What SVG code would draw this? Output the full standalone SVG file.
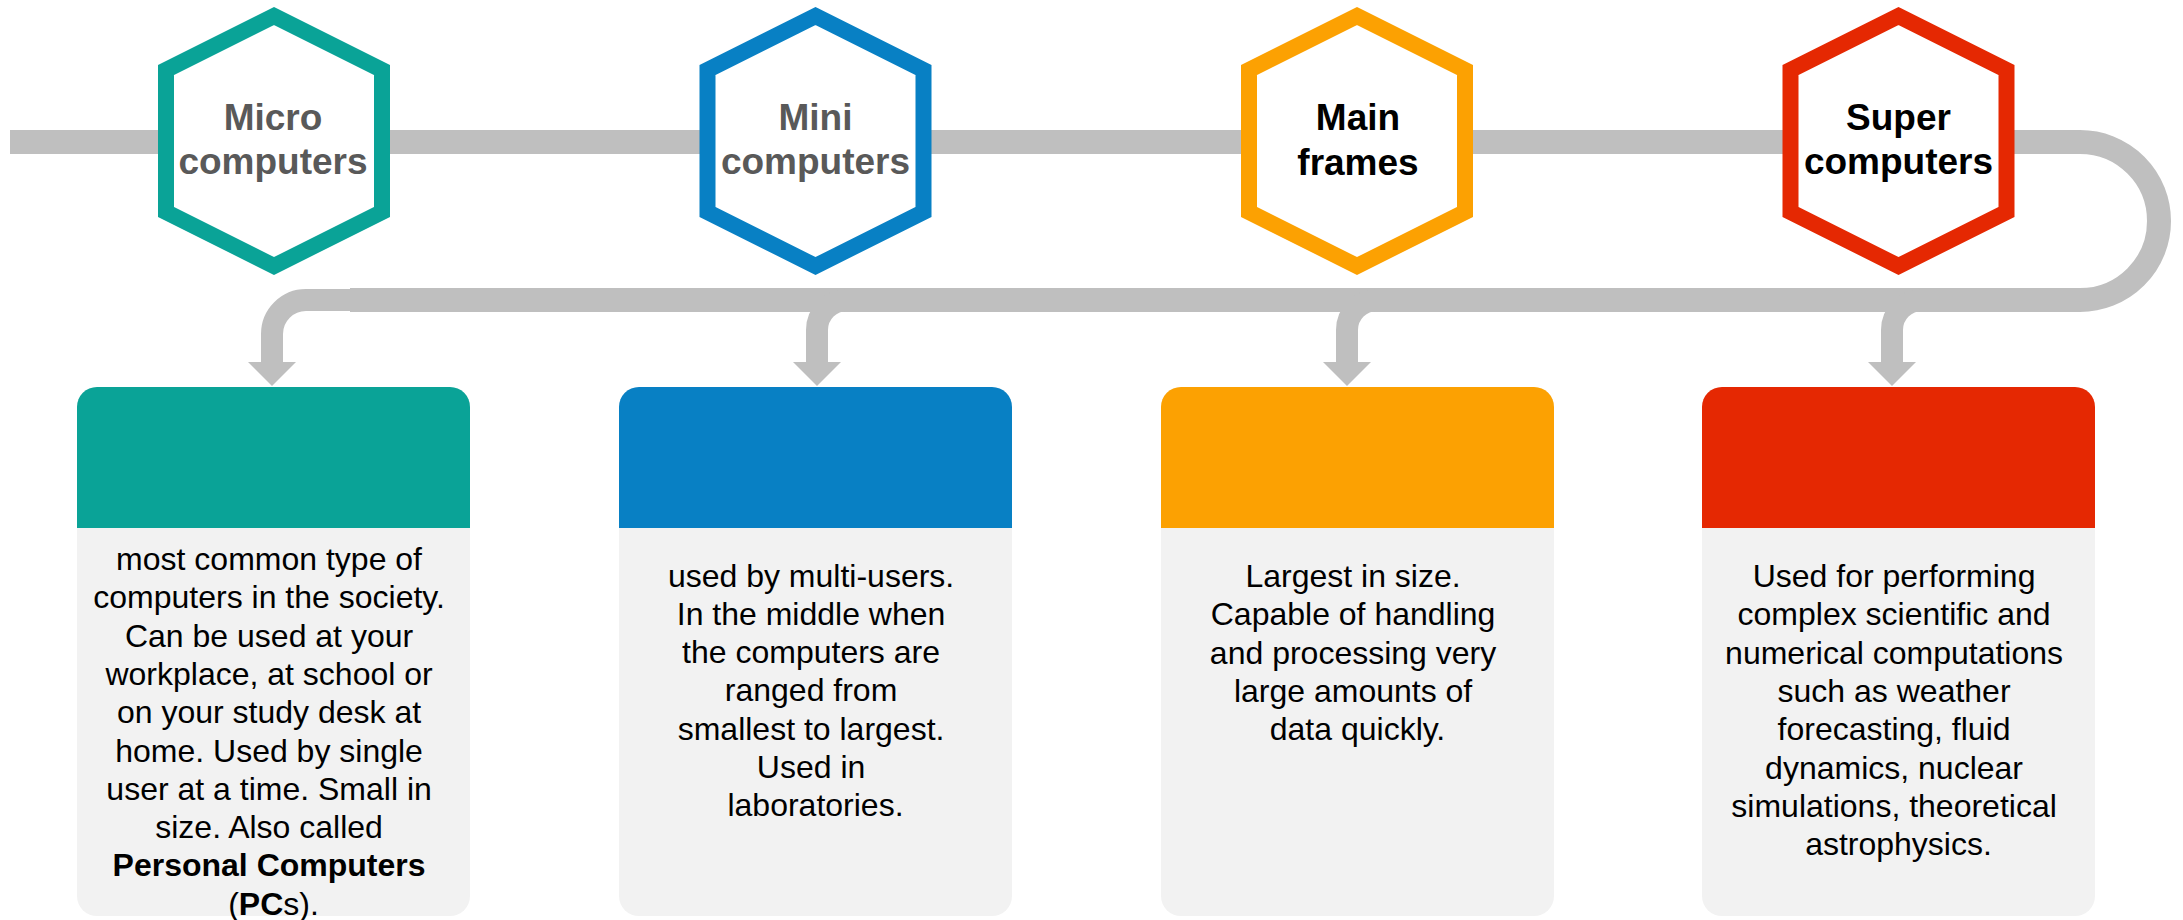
<svg xmlns="http://www.w3.org/2000/svg" width="2183" height="920" viewBox="0 0 2183 920">
<style>
.line{fill:none;stroke:#bfbfbf;stroke-width:24}
.branch{fill:none;stroke:#bfbfbf;stroke-width:22}
.head{fill:#bfbfbf}
.hex{fill:#fff;stroke-width:16;stroke-linejoin:miter}
.ht{font-family:"Liberation Sans",Arial,sans-serif;font-weight:bold;font-size:37px;text-anchor:middle}
.body{fill:#f2f2f2}
.bt{font-family:"Liberation Sans",Arial,sans-serif;font-size:32px;text-anchor:middle;fill:#000}
</style>
<rect width="2183" height="920" fill="#fff"/>
<g id="connectors">
<path class="line" d="M10 142 H2080 A79 79 0 0 1 2080 300 H350"/>
<path class="branch" d="M410 300 H306 A34 34 0 0 0 272 334 V364"/>
<path class="branch" d="M937 300 H847 A30 30 0 0 0 817 330 V364"/>
<path class="branch" d="M1480 300 H1377 A30 30 0 0 0 1347 330 V364"/>
<path class="branch" d="M2012 300 H1922 A30 30 0 0 0 1892 330 V364"/>
<polygon class="head" points="248,362 296,362 272,386"/>
<polygon class="head" points="793,362 841,362 817,386"/>
<polygon class="head" points="1323,362 1371,362 1347,386"/>
<polygon class="head" points="1868,362 1916,362 1892,386"/>
</g>
<g id="hex-micro">
<polygon class="hex" stroke="#0aa397" points="274,16 382,70 382,212 274,266 166,212 166,70"/>
<text class="ht" fill="#595959" x="273" y="130">Micro</text>
<text class="ht" fill="#595959" x="273" y="174">computers</text>
</g>
<g id="hex-mini">
<polygon class="hex" stroke="#0880c4" points="815.5,16 923.5,70 923.5,212 815.5,266 707.5,212 707.5,70"/>
<text class="ht" fill="#595959" x="815.5" y="130">Mini</text>
<text class="ht" fill="#595959" x="815.5" y="174">computers</text>
</g>
<g id="hex-main">
<polygon class="hex" stroke="#fca102" points="1357,16 1465,70 1465,212 1357,266 1249,212 1249,70"/>
<text class="ht" fill="#000" x="1358" y="130">Main</text>
<text class="ht" fill="#000" x="1358" y="175">frames</text>
</g>
<g id="hex-super">
<polygon class="hex" stroke="#e52802" points="1898.5,16 2006.5,70 2006.5,212 1898.5,266 1790.5,212 1790.5,70"/>
<text class="ht" fill="#000" x="1898.5" y="130">Super</text>
<text class="ht" fill="#000" x="1898.5" y="174">computers</text>
</g>
<g id="box-micro">
<rect class="body" x="77" y="387" width="393" height="529" rx="20"/>
<path fill="#0aa397" d="M77 528 V407 A20 20 0 0 1 97 387 H450 A20 20 0 0 1 470 407 V528 Z"/>
<text class="bt">
<tspan x="273.5" y="570">most common type of</tspan>
<tspan x="273.5" y="608.3">computers in the society.</tspan>
<tspan x="273.5" y="646.6">Can be used at your</tspan>
<tspan x="273.5" y="684.9">workplace, at school or</tspan>
<tspan x="273.5" y="723.2">on your study desk at</tspan>
<tspan x="273.5" y="761.5">home. Used by single</tspan>
<tspan x="273.5" y="799.8">user at a time. Small in</tspan>
<tspan x="273.5" y="838.1">size. Also called</tspan>
<tspan x="273.5" y="876.4" font-weight="bold">Personal Computers</tspan>
<tspan x="273.5" y="914.7">(<tspan font-weight="bold">PC</tspan>s).</tspan>
</text>
</g>
<g id="box-mini">
<rect class="body" x="619" y="387" width="393" height="529" rx="20"/>
<path fill="#0880c4" d="M619 528 V407 A20 20 0 0 1 639 387 H992 A20 20 0 0 1 1012 407 V528 Z"/>
<text class="bt">
<tspan x="815.5" y="586.5">used by multi-users.</tspan>
<tspan x="815.5" y="624.8">In the middle when</tspan>
<tspan x="815.5" y="663.1">the computers are</tspan>
<tspan x="815.5" y="701.4">ranged from</tspan>
<tspan x="815.5" y="739.7">smallest to largest.</tspan>
<tspan x="815.5" y="778">Used in</tspan>
<tspan x="815.5" y="816.3">laboratories.</tspan>
</text>
</g>
<g id="box-main">
<rect class="body" x="1161" y="387" width="393" height="529" rx="20"/>
<path fill="#fca102" d="M1161 528 V407 A20 20 0 0 1 1181 387 H1534 A20 20 0 0 1 1554 407 V528 Z"/>
<text class="bt">
<tspan x="1357.5" y="587">Largest in size.</tspan>
<tspan x="1357.5" y="625.3">Capable of handling</tspan>
<tspan x="1357.5" y="663.6">and processing very</tspan>
<tspan x="1357.5" y="701.9">large amounts of</tspan>
<tspan x="1357.5" y="740.2">data quickly.</tspan>
</text>
</g>
<g id="box-super">
<rect class="body" x="1702" y="387" width="393" height="529" rx="20"/>
<path fill="#e52802" d="M1702 528 V407 A20 20 0 0 1 1722 387 H2075 A20 20 0 0 1 2095 407 V528 Z"/>
<text class="bt">
<tspan x="1898.5" y="587">Used for performing</tspan>
<tspan x="1898.5" y="625.3">complex scientific and</tspan>
<tspan x="1898.5" y="663.6">numerical computations</tspan>
<tspan x="1898.5" y="701.9">such as weather</tspan>
<tspan x="1898.5" y="740.2">forecasting, fluid</tspan>
<tspan x="1898.5" y="778.5">dynamics, nuclear</tspan>
<tspan x="1898.5" y="816.8">simulations, theoretical</tspan>
<tspan x="1898.5" y="855.1">astrophysics.</tspan>
</text>
</g>
</svg>
